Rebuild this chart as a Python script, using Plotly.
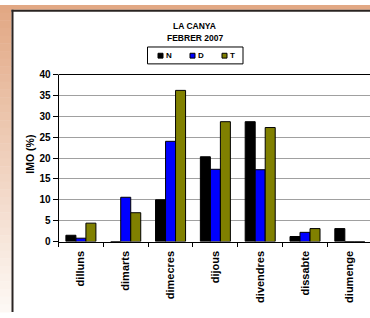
import plotly.graph_objects as go

categories = ["dilluns", "dimarts", "dimecres", "dijous", "divendres", "dissabte", "diumenge"]
series_names = ["N", "D", "T"]
values_N = [1.5, 0.0, 10.0, 20.3, 28.7, 1.2, 3.1]
values_D = [0.8, 10.6, 24.0, 17.3, 17.2, 2.2, 0.0]
values_T = [4.4, 6.9, 36.2, 28.7, 27.3, 3.1, 0.0]
colors = ["#000000", "#0000ff", "#808000"]
y_ticks = [0, 5, 10, 15, 20, 25, 30, 35, 40]
title_lines = ["LA CANYA", "FEBRER 2007"]
y_title = "IMO (%)"

W, H = 370, 318
FONT = "Liberation Sans, Arial, sans-serif"

def px(x):
    return x / W

def py(y):
    return (H - y) / H

fig = go.Figure()
for name, vals, col in zip(series_names, [values_N, values_D, values_T], colors):
    fig.add_trace(go.Bar(
        name=name, x=categories, y=vals, showlegend=False,
        marker=dict(color=col, line=dict(color="#000000", width=1)),
    ))

shapes = []
# gradient strip on the left
steps = 40
c0 = (226, 168, 132)
c1 = (253, 248, 244)
for i in range(steps):
    t = i / (steps - 1)
    c = tuple(int(round(c0[k] + (c1[k] - c0[k]) * t)) for k in range(3))
    y0 = i * H / steps
    y1 = (i + 1) * H / steps + 0.5
    shapes.append(dict(type="rect", xref="paper", yref="paper",
                       x0=0, x1=px(11.5), y0=py(y1), y1=py(y0),
                       fillcolor="rgb(%d,%d,%d)" % c, line=dict(width=0), layer="below"))
# strip on top
shapes.append(dict(type="rect", xref="paper", yref="paper", x0=0, x1=1,
                   y0=py(5), y1=1, fillcolor="rgb(226,168,132)", line=dict(width=0), layer="below"))
# dark border of the chart box
shapes.append(dict(type="line", xref="paper", yref="paper", x0=px(12.5), x1=px(12.5),
                   y0=0, y1=py(5), line=dict(color="#2a2422", width=2)))
shapes.append(dict(type="line", xref="paper", yref="paper", x0=px(11.5), x1=1,
                   y0=py(6), y1=py(6), line=dict(color="#2a2422", width=2)))
# top border of the plot area
shapes.append(dict(type="line", xref="x domain", yref="y domain", x0=0, x1=1, y0=1, y1=1,
                   line=dict(color="#000000", width=1)))

BOLD = dict(family=FONT, size=8.5, color="#000000", weight="bold")
annotations = [
    dict(text=title_lines[0], x=px(195), y=py(22), xref="paper", yref="paper",
         showarrow=False, font=BOLD, xanchor="center", yanchor="middle"),
    dict(text=title_lines[1], x=px(195), y=py(34), xref="paper", yref="paper",
         showarrow=False, font=BOLD, xanchor="center", yanchor="middle"),
    dict(text=y_title, x=px(30), y=py(155), xref="paper", yref="paper", textangle=-90,
         showarrow=False, font=dict(family=FONT, size=10.5, color="#000000", weight="bold"),
         xanchor="center", yanchor="middle"),
]

# compact legend box
shapes.append(dict(type="rect", xref="paper", yref="paper", x0=px(147.5), x1=px(243),
                   y0=py(61), y1=py(43.5), fillcolor="#ffffff",
                   line=dict(color="#000000", width=1)))
for i, (name, col) in enumerate(zip(series_names, colors)):
    sx = 158 + 32 * i
    shapes.append(dict(type="rect", xref="paper", yref="paper", x0=px(sx), x1=px(sx + 5),
                       y0=py(55), y1=py(50), fillcolor=col,
                       line=dict(color="#000000", width=1)))
    annotations.append(dict(text=name, x=px(sx + 6), y=py(52.5), xref="paper", yref="paper",
                            showarrow=False, xanchor="left", yanchor="middle",
                            font=dict(family=FONT, size=8, color="#000000", weight="bold")))

fig.update_layout(
    width=W, height=H,
    margin=dict(l=0, r=0, t=0, b=0, pad=0),
    paper_bgcolor="#ffffff", plot_bgcolor="#ffffff",
    barmode="group", bargap=0.33, bargroupgap=0,
    font=dict(family=FONT, size=9, color="#000000"),
    shapes=shapes, annotations=annotations,
    showlegend=False,
    xaxis=dict(domain=[px(58.5), 1], range=[-0.5, 6.45], type="category",
               showline=True, linecolor="#000000", linewidth=1, mirror=False,
               ticks="outside", tickson="boundaries", ticklen=4, tickcolor="#000000",
               ticklabelstandoff=4,
               tickangle=-90, tickfont=dict(family=FONT, size=11, color="#000000", weight="bold"),
               showgrid=False, zeroline=False),
    yaxis=dict(domain=[py(245), py(72)], range=[0, 40], tickvals=y_ticks,
               showline=True, linecolor="#000000", linewidth=1,
               ticks="outside", ticklen=5, tickcolor="#000000",
               tickfont=dict(family=FONT, size=10, color="#000000", weight="bold"),
               showgrid=True, gridcolor="#a0a0a0", gridwidth=1, zeroline=False),
)

fig.write_html("out.html", config={"displayModeBar": False},
               post_script="document.body.style.margin='0';document.body.style.padding='0';document.body.style.overflow='hidden';")
